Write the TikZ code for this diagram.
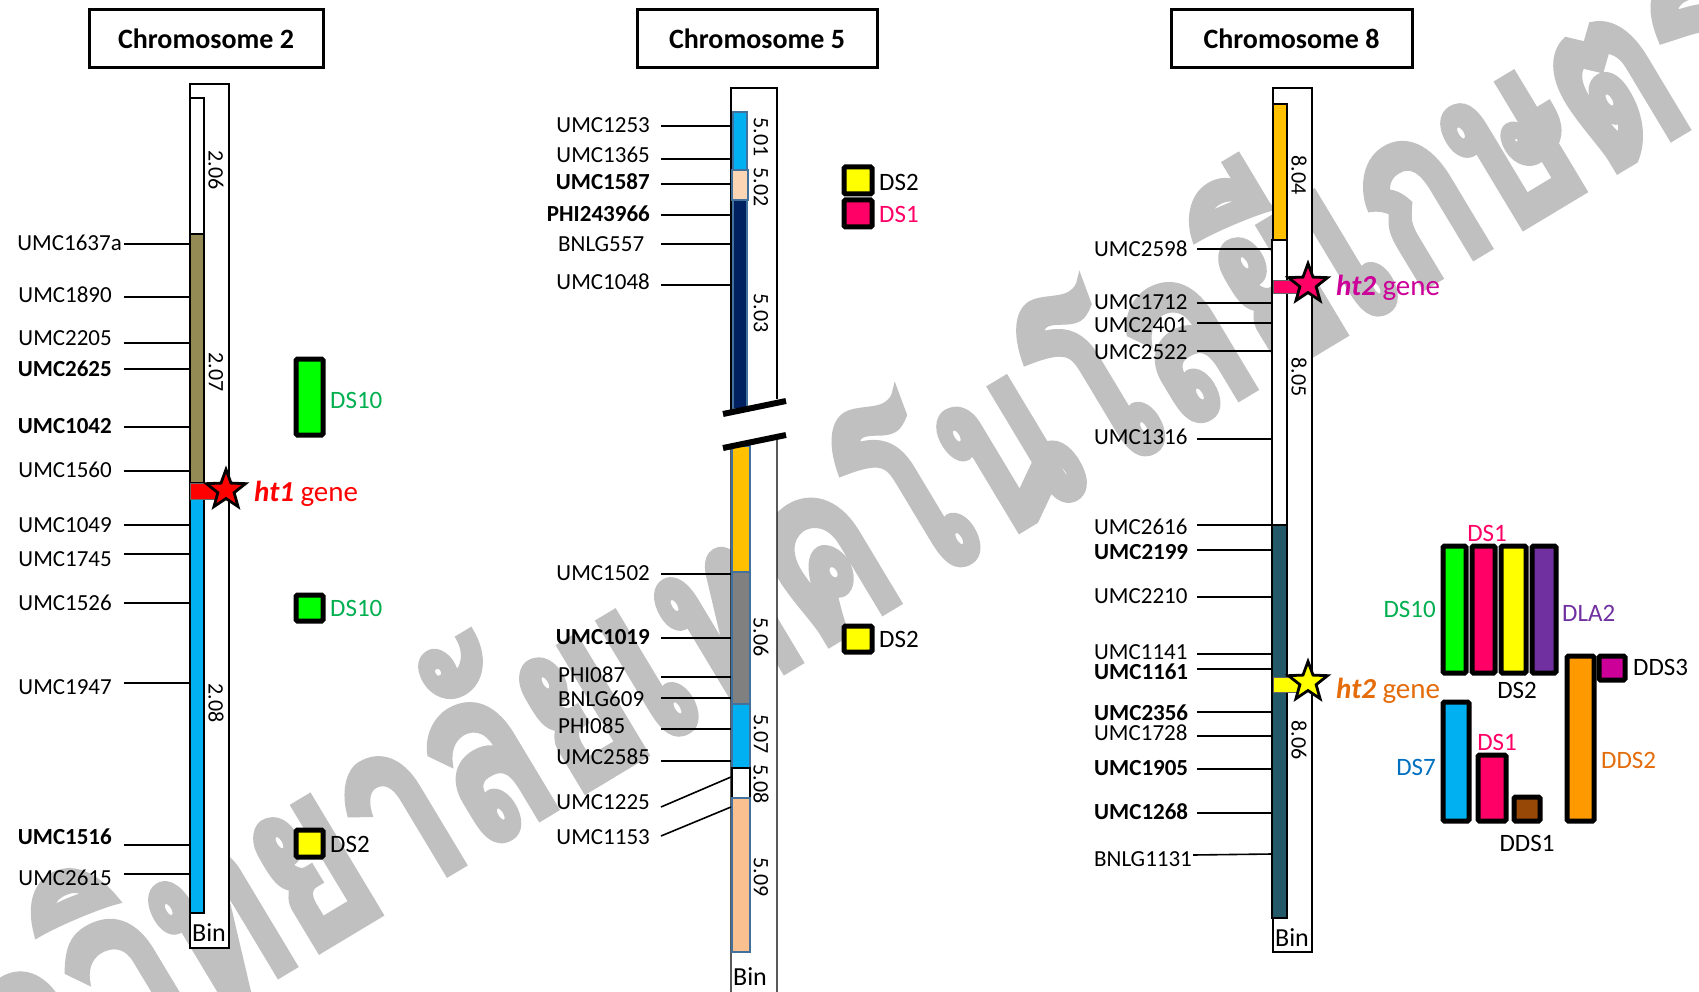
\documentclass[tikz,border=0pt]{standalone}
\usepackage{fontspec}
\setmainfont{Carlito}
\newfontfamily\thaifont[Script=Thai, FakeBold=3]{Loma}
\usetikzlibrary{shapes.geometric}
\definecolor{cOlive}{RGB}{148,138,84}
\definecolor{cCyan}{RGB}{0,176,240}
\definecolor{cNavy}{RGB}{0,32,96}
\definecolor{cPeachA}{RGB}{252,213,181}
\definecolor{cPeachB}{RGB}{250,192,144}
\definecolor{cGold}{RGB}{255,192,0}
\definecolor{cGrey}{RGB}{128,128,128}
\definecolor{cTeal}{RGB}{35,89,104}
\definecolor{cPink}{RGB}{255,0,102}
\definecolor{cGreenT}{RGB}{0,176,80}
\definecolor{cGreenF}{RGB}{0,255,0}
\definecolor{cYel}{RGB}{255,255,0}
\definecolor{cPurp}{RGB}{112,48,160}
\definecolor{cOrng}{RGB}{255,153,0}
\definecolor{cOrngT}{RGB}{228,108,10}
\definecolor{cMag}{RGB}{204,0,153}
\definecolor{cBrwn}{RGB}{151,71,6}
\definecolor{cBlueT}{RGB}{0,112,192}
\definecolor{cWm}{RGB}{192,192,192}
\definecolor{cSeg}{RGB}{65,113,156}
\definecolor{cRed}{RGB}{255,0,0}
\tikzset{
  mk/.style={font=\fontsize{23}{23}\selectfont, inner sep=0pt},
  mkline/.style={line width=1.6pt, black},
  binlab/.style={font=\fontsize{22}{22}\selectfont, rotate=-90, inner sep=0pt},
  bintxt/.style={font=\fontsize{26}{26}\selectfont, inner sep=0pt},
  titlebox/.style={draw, line width=3pt, minimum height=58pt, font=\bfseries\fontsize{28}{28}\selectfont},
  outerbar/.style={draw=black, line width=1.2pt, fill=white},
  segk/.style={draw=black, line width=1.2pt},
  segb/.style={draw=cSeg, line width=1.2pt},
  dsbox/.style={draw=black, line width=5pt, rounded corners=1.5pt},
  dslab/.style={font=\fontsize{25}{25}\selectfont, inner sep=0pt},
  genestar/.style={star, star points=5, star point ratio=2.4, minimum size=41pt, inner sep=0pt, draw=black, line width=2.8pt},
  genelab/.style={font=\fontsize{29}{29}\selectfont, inner sep=0pt, anchor=base west},
  slash/.style={line width=6pt, black},
  wmark/.style={rotate=31, xscale=0.72, text=cWm, inner sep=0pt, font=\thaifont\bfseries\fontsize{245}{245}\selectfont}
}
\begin{document}
\begin{tikzpicture}[x=1pt, y=-1pt]
\useasboundingbox (0,0) rectangle (1699,992);
\fill[white] (0,0) rectangle (1699,992);
% watermark
\node[wmark, anchor=base west] (wmkB) at (478,855) {ลัยเทคโนโลยีเกษตร};
\node[wmark, anchor=base east] (wmkA) at (478,855) {มหาวิทยา};

% ================= Chromosome 2 =================
\node[titlebox, minimum width=234pt] (t2) at (206,39) {Chromosome 2};
\draw[outerbar] (190,84) rectangle (229,948);
\draw[segk, fill=white] (190,98) rectangle (204,234);
\draw[segk, fill=cOlive] (190,234) rectangle (204,483);
\draw[segk, fill=cCyan] (190,499) rectangle (204,913);
\draw[draw=black!60, line width=0.8pt, fill=cRed] (190,483) rectangle (219,499);
\node[genestar, fill=cRed] (s2) at (226,490) {};
\node[genelab, text=cRed] (g2) at (254,501) {\textbf{\textit{ht1}} gene};
\node[binlab] (b206) at (216,170) {2.06};
\node[binlab] (b207) at (216,372) {2.07};
\node[binlab] (b208) at (216,703) {2.08};
\node[bintxt] (bin2) at (209,933) {Bin};
\node[mk, anchor=east] (m2a) at (122,243) {UMC1637a};
\draw[mkline] (m2a.east) ++(2,1) -- (190,244);
\foreach \t/\ly/\ty/\f [count=\i] in {UMC1890/297/295/\relax, UMC2205/343/338/\relax,
   UMC2625/369/369/\bfseries, UMC1042/427/426/\bfseries, UMC1560/471/470/\relax,
   UMC1049/525/525/\relax, UMC1745/554/559/\relax, UMC1526/603/603/\relax,
   UMC1947/683/687/\relax, UMC1516/845/837/\bfseries, UMC2615/874/878/\relax}{
  \node[mk, anchor=east] (m2-\i) at (112,\ty) {\f\t};
  \coordinate (c2-\i) at (124,\ly);
  \draw[mkline] (c2-\i) -- (190,\ly);
}
\draw[dsbox, fill=cGreenF] (296,359) rectangle (323,435);
\node[dslab, anchor=west, text=cGreenT] (d2a) at (330,400) {DS10};
\draw[dsbox, fill=cGreenF] (296,595) rectangle (323,621);
\node[dslab, anchor=west, text=cGreenT] (d2b) at (330,608) {DS10};
\draw[dsbox, fill=cYel] (296,830) rectangle (323,857);
\node[dslab, anchor=west] (d2c) at (330,844) {DS2};

% ================= Chromosome 5 =================
\node[titlebox, minimum width=240pt] (t5) at (757,39) {Chromosome 5};
\fill[white] (731,411) -- (731,88) -- (777,88) -- (777,399) -- cycle;
\draw[line width=1.2pt] (731,411) -- (731,88) -- (777,88) -- (777,399);
\draw[outerbar] (731,995) -- (731,447) -- (777,436) -- (777,995);
\draw[segb, fill=cCyan] (733,112) rectangle (747,170);
\draw[segb, fill=cPeachA] (732,170) rectangle (748,200);
\draw[segb, fill=cNavy] (733,200) rectangle (747,409);
\draw[segb, fill=cGold] (732,446) rectangle (750,572);
\draw[segb, fill=cGrey] (732,572) rectangle (750,704);
\draw[segb, fill=cCyan] (732,704) rectangle (750,768);
\draw[segk, fill=white] (732,768) rectangle (750,798);
\draw[segb, fill=cPeachB] (732,798) rectangle (750,952);
\draw[slash] (723,414) -- (786,401);
\draw[slash] (723,448) -- (786,435);
\node[binlab] (b501) at (761,137) {5.01};
\node[binlab] (b502) at (761,187) {5.02};
\node[binlab] (b503) at (761,313) {5.03};
\node[binlab] (b506) at (761,637) {5.06};
\node[binlab] (b507) at (761,734) {5.07};
\node[binlab] (b508) at (761,784) {5.08};
\node[binlab] (b509) at (761,877) {5.09};
\node[bintxt] (bin5) at (750,977) {Bin};
\foreach \t/\ly/\ty/\f [count=\i] in {UMC1253/126/125/\relax, UMC1365/159/155/\relax,
   UMC1587/184/182/\bfseries, PHI243966/215/214/\bfseries,
   UMC1048/285/282/\relax, UMC1502/574/573/\relax, UMC1019/638/637/\bfseries,
   UMC2585/761/757/\relax}{
  \node[mk, anchor=east] (m5-\i) at (650,\ty) {\f\t};
  \coordinate (c5-\i) at (661,\ly);
  \draw[mkline] (c5-\i) -- (731,\ly);
}
\node[mk, anchor=west] (m5b1) at (558,244) {BNLG557};
\draw[mkline] (661,244) -- (731,244);
\node[mk, anchor=west] (m5p1) at (558,675) {PHI087};
\draw[mkline] (661,677) -- (731,677);
\node[mk, anchor=west] (m5b2) at (558,699) {BNLG609};
\draw[mkline] (661,698) -- (731,698);
\node[mk, anchor=west] (m5p2) at (558,726) {PHI085};
\draw[mkline] (661,729) -- (731,729);
\node[mk, anchor=east] (m5u1) at (650,802) {UMC1225};
\draw[mkline] (661,807) -- (731,777);
\node[mk, anchor=east] (m5u2) at (650,837) {UMC1153};
\draw[mkline] (661,836) -- (731,807);
\draw[dsbox, fill=cYel] (844,167) rectangle (872,194);
\node[dslab, anchor=west] (d5a) at (879,182) {DS2};
\draw[dsbox, fill=cPink] (844,200) rectangle (872,227);
\node[dslab, anchor=west, text=cPink] (d5b) at (879,214) {DS1};
\draw[dsbox, fill=cYel] (844,626) rectangle (872,652);
\node[dslab, anchor=west] (d5c) at (879,639) {DS2};

% ================= Chromosome 8 =================
\node[titlebox, minimum width=241pt] (t8) at (1291.5,39) {Chromosome 8};
\draw[outerbar] (1273,88) rectangle (1312,952);
\draw[segk, fill=cGold] (1273,104) rectangle (1287,240);
\draw[segk, fill=white] (1272,240) rectangle (1287,525);
\draw[segk, fill=cTeal] (1272,525) rectangle (1287,918);
\draw[draw=black!60, line width=0.8pt, fill=cPink] (1273,280) rectangle (1305,293);
\node[genestar, fill=cPink] (s8a) at (1308,284) {};
\node[genelab, text=cMag] (g8a) at (1336,295) {\textbf{\textit{ht2}} gene};
\draw[draw=black!60, line width=0.8pt, fill=cYel] (1273,677) rectangle (1305,692);
\node[genestar, fill=cYel] (s8b) at (1308,682) {};
\node[genelab, text=cOrngT] (g8b) at (1336,698) {\textbf{\textit{ht2}} gene};
\node[binlab] (b804) at (1299,175) {8.04};
\node[binlab] (b805) at (1299,377) {8.05};
\node[binlab] (b806) at (1299,740) {8.06};
\node[bintxt] (bin8) at (1292,938) {Bin};
\foreach \t/\ly/\ty/\f [count=\i] in {UMC2598/249/249/\relax, UMC1712/303/302/\relax,
   UMC2401/323/325/\relax, UMC2522/351/352/\relax, UMC1316/439/437/\relax,
   UMC2616/525/527/\relax, UMC2199/550/552/\bfseries, UMC2210/597/596/\relax,
   UMC1141/654/652/\relax, UMC1161/669/672/\bfseries, UMC2356/712/713/\bfseries,
   UMC1728/736/733/\relax, UMC1905/769/768/\bfseries, UMC1268/813/812/\bfseries}{
  \node[mk, anchor=west] (m8-\i) at (1094,\ty) {\f\t};
  \coordinate (c8-\i) at (1197,\ly);
  \draw[mkline] (c8-\i) -- (1272,\ly);
}
\node[mk, anchor=west] (m8b) at (1094,859) {BNLG1131};
\draw[mkline] (m8b.east) ++(1,-4) -- (1272,854);
% trait bars
\draw[dsbox, fill=cGreenF] (1443,546) rectangle (1466,673);
\draw[dsbox, fill=cPink] (1472,546) rectangle (1495,673);
\draw[dsbox, fill=cYel] (1501,546) rectangle (1526,673);
\draw[dsbox, fill=cPurp] (1532,546) rectangle (1556,673);
\node[dslab, text=cPink] (e1) at (1487,533) {DS1};
\node[dslab, anchor=east, text=cGreenT] (e2) at (1436,609) {DS10};
\node[dslab, anchor=west, text=cPurp] (e3) at (1562,613) {DLA2};
\node[dslab] (e4) at (1517,690) {DS2};
\draw[dsbox, fill=cOrng] (1567,656) rectangle (1594,821);
\node[dslab, anchor=west, text=cOrngT] (e5) at (1601,760) {DDS2};
\draw[dsbox, fill=cMag] (1599,656) rectangle (1625,680);
\node[dslab, anchor=west] (e6) at (1633,667) {DDS3};
\draw[dsbox, fill=cCyan] (1443,702) rectangle (1469,821);
\node[dslab, anchor=east, text=cBlueT] (e7) at (1436,767) {DS7};
\draw[dsbox, fill=cPink] (1478,755) rectangle (1506,821);
\node[dslab, text=cPink] (e8) at (1497,742) {DS1};
\draw[dsbox, fill=cBrwn] (1514,797) rectangle (1540,821);
\node[dslab] (e9) at (1527,843) {DDS1};
\end{tikzpicture}
\end{document}
